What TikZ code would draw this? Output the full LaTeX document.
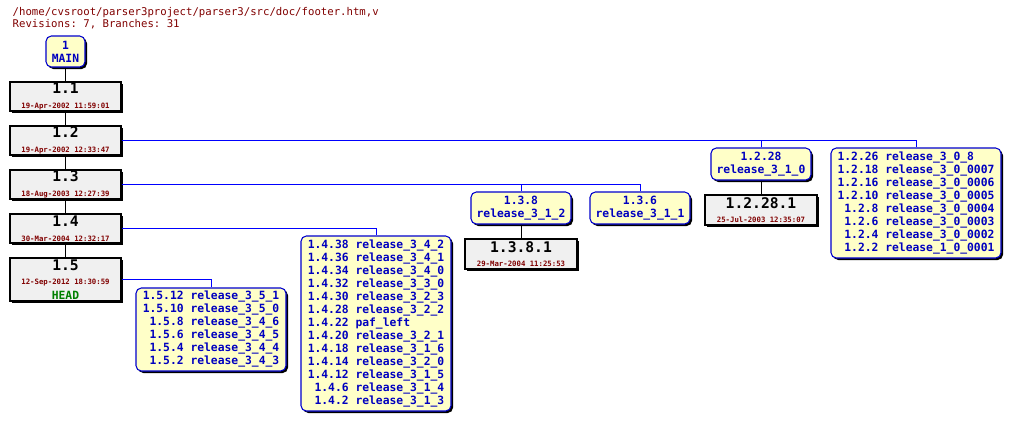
\documentclass[tikz,border=0pt]{standalone}
\usepackage{fontspec}
\setmonofont{DejaVu Sans Mono}
\usetikzlibrary{shadows}
\definecolor{tagfill}{HTML}{FFFFC8}
\definecolor{revfill}{HTML}{F0F0F0}
\definecolor{datered}{HTML}{800000}
\definecolor{headgreen}{HTML}{008000}
\tikzset{
    rev/.style={draw=black, fill=revfill, thick, inner sep=0pt, align=center,
        drop shadow={shadow xshift=1.5pt, shadow yshift=-1.5pt, fill=black, opacity=1}},
    tag/.style={draw=blue!80!black, fill=tagfill, thick, rounded corners=4pt, inner sep=0pt,
        text=blue!75!black, align=center, font=\ttfamily\bfseries\fontsize{8.5}{9.75}\selectfont,
        drop shadow={shadow xshift=1.5pt, shadow yshift=-1.5pt, fill=black, opacity=1}},
    branch/.style={blue, semithick},
    trunk/.style={black, semithick}
}
\newcommand{\revtext}[2]{{\fontsize{11}{12}\selectfont #1}\\[-1pt]{\color{datered}\fontsize{5.5}{6}\selectfont #2}}
\begin{document}
\begin{tikzpicture}[x=0.75pt,y=-0.75pt,font=\ttfamily\bfseries]
\useasboundingbox (0,0) rectangle (1011,421);
\node[anchor=west, text=datered, font=\ttfamily\fontsize{8}{9}\selectfont, align=left] at (8,18)
    {/home/cvsroot/parser3project/parser3/src/doc/footer.htm,v\\Revisions: 7, Branches: 31};
% trunk
\node[tag, minimum width=29.25pt, minimum height=23.25pt] (main) at (65.5,51.5) {1\\MAIN};
\node[rev, minimum width=83.25pt, minimum height=21.75pt] (r11) at (65.5,96.5) {\revtext{1.1}{19-Apr-2002 11:59:01}};
\node[rev, minimum width=83.25pt, minimum height=21.75pt] (r12) at (65.5,140.5) {\revtext{1.2}{19-Apr-2002 12:33:47}};
\node[rev, minimum width=83.25pt, minimum height=21.75pt] (r13) at (65.5,184.5) {\revtext{1.3}{18-Aug-2003 12:27:39}};
\node[rev, minimum width=83.25pt, minimum height=21.75pt] (r14) at (65.5,228.5) {\revtext{1.4}{30-Mar-2004 12:32:17}};
\node[rev, minimum width=83.25pt, minimum height=32.25pt] (r15) at (65.5,279.5)
    {\revtext{1.5}{12-Sep-2012 18:30:59}\\[-1pt]{\color{headgreen}\fontsize{8.5}{9}\selectfont HEAD}};
\draw[trunk] (main) -- (r11) -- (r12) -- (r13) -- (r14) -- (r15);
% branches of 1.2
\node[tag, minimum width=75pt, minimum height=24pt] (b1228) at (761,164) {1.2.28\\release\_3\_1\_0};
\node[rev, minimum width=84pt, minimum height=22.5pt] (r12281) at (761,210) {\revtext{1.2.28.1}{25-Jul-2003 12:35:07}};
\node[tag, minimum width=127.5pt, minimum height=82.5pt] (b1226) at (916,203)
    {\begin{tabular}{@{}r@{ }l@{}}1.2.26&release\_3\_0\_8\\1.2.18&release\_3\_0\_0007\\1.2.16&release\_3\_0\_0006\\
    1.2.10&release\_3\_0\_0005\\1.2.8&release\_3\_0\_0004\\1.2.6&release\_3\_0\_0003\\
    1.2.4&release\_3\_0\_0002\\1.2.2&release\_1\_0\_0001\end{tabular}};
\draw[branch] (r12.east) -| (b1228.north);
\draw[branch] (r12.east) -| (b1226.north);
\draw[trunk] (b1228) -- (r12281);
% branches of 1.3
\node[tag, minimum width=75pt, minimum height=24pt] (b138) at (521,208) {1.3.8\\release\_3\_1\_2};
\node[tag, minimum width=75pt, minimum height=24pt] (b136) at (640,208) {1.3.6\\release\_3\_1\_1};
\node[rev, minimum width=84pt, minimum height=22.5pt] (r1381) at (521,254) {\revtext{1.3.8.1}{29-Mar-2004 11:25:53}};
\draw[branch] (r13.east) -| (b138.north);
\draw[branch] (r13.east) -| (b136.north);
\draw[trunk] (b138) -- (r1381);
% branches of 1.4
\node[tag, minimum width=112.5pt, minimum height=131.25pt] (b14) at (376,323.5)
    {\begin{tabular}{@{}r@{ }l@{}}1.4.38&release\_3\_4\_2\\1.4.36&release\_3\_4\_1\\1.4.34&release\_3\_4\_0\\
    1.4.32&release\_3\_3\_0\\1.4.30&release\_3\_2\_3\\1.4.28&release\_3\_2\_2\\1.4.22&paf\_left\\
    1.4.20&release\_3\_2\_1\\1.4.18&release\_3\_1\_6\\1.4.14&release\_3\_2\_0\\1.4.12&release\_3\_1\_5\\
    1.4.6&release\_3\_1\_4\\1.4.2&release\_3\_1\_3\end{tabular}};
\draw[branch] (r14.east) -| (b14.north);
% branches of 1.5
\node[tag, minimum width=112.5pt, minimum height=62.25pt] (b15) at (211,329.5)
    {\begin{tabular}{@{}r@{ }l@{}}1.5.12&release\_3\_5\_1\\1.5.10&release\_3\_5\_0\\1.5.8&release\_3\_4\_6\\
    1.5.6&release\_3\_4\_5\\1.5.4&release\_3\_4\_4\\1.5.2&release\_3\_4\_3\end{tabular}};
\draw[branch] (r15.east) -| (b15.north);
\end{tikzpicture}
\end{document}
